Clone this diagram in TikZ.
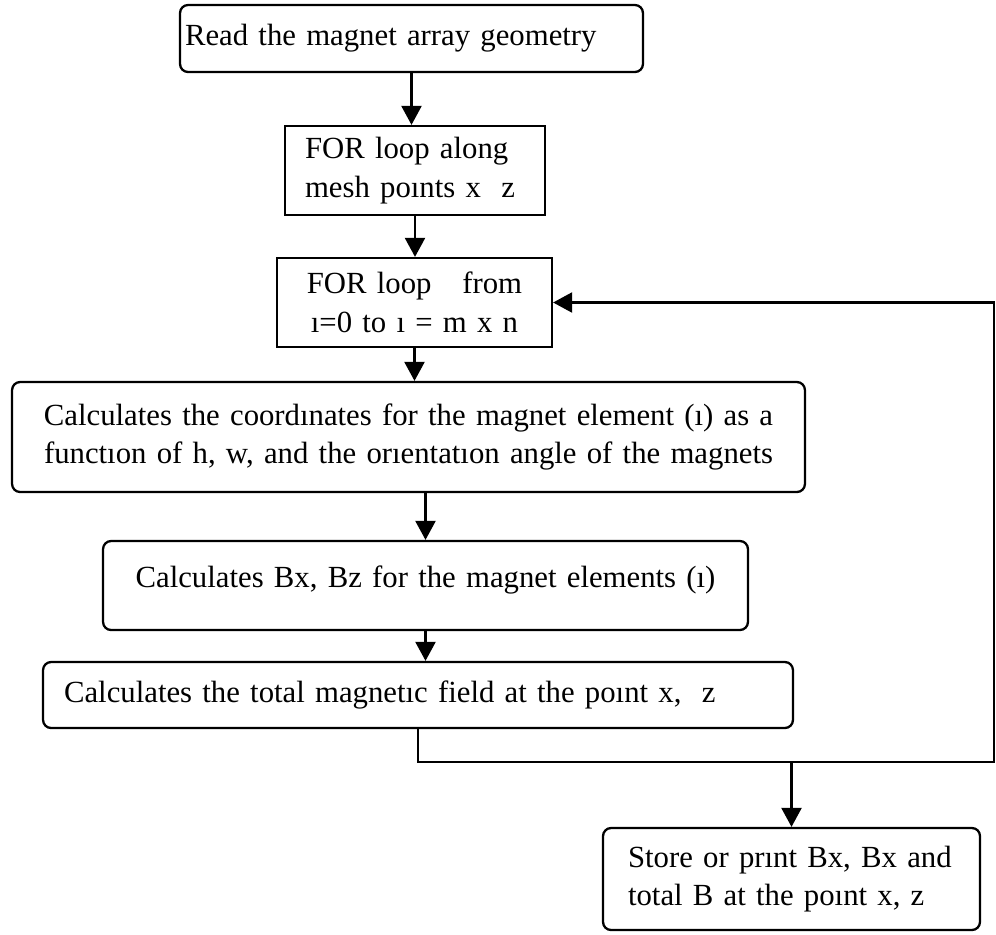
\documentclass[tikz,border=0pt]{standalone}
\usepackage{fontspec}
\setmainfont{Liberation Serif}
\usetikzlibrary{arrows.meta}
\begin{document}
\begin{tikzpicture}[x=0.02cm,y=-0.02cm,
		font=\fontsize{17.5}{22}\selectfont,
		box/.style={draw,line width=1.3pt,inner ysep=0pt},
		rbox/.style={box,rounded corners=0.16cm},
		flow/.style={line width=1.3pt,-{Triangle[length=0.38cm,width=0.4cm]}}]
			\useasboundingbox (0,0) rectangle (996,934);
			
			\node[rbox,minimum width=9.26cm,minimum height=1.34cm,text width=9.06cm,inner xsep=0.1cm,align=left] (read) at (411.5,38.5) {Read the magnet array geometry};
			\node[box,minimum width=5.2cm,minimum height=1.78cm,text width=4.4cm,inner xsep=0.4cm,align=left] (mesh) at (415,170.5) {FOR loop along\\mesh po\i nts x\ \ z};
			\node[box,minimum width=5.5cm,minimum height=1.78cm,text width=5.1cm,inner xsep=0.2cm,align=center] (loop) at (414.5,302.5) {FOR loop\ \ \ from\\\i=0 to \i\ = m x n};
			\node[rbox,minimum width=15.86cm,minimum height=2.2cm,text width=15.46cm,inner xsep=0.2cm,align=center] (coord) at (408.5,437) {Calculates the coord\i nates for the magnet element (\i) as a\\funct\i on of h, w, and the or\i entat\i on angle of the magnets};
			\node[rbox,minimum width=12.9cm,minimum height=1.78cm,text width=12.5cm,inner xsep=0.2cm,align=center,text depth=0.35cm] (bfield) at (425.5,585.5) {Calculates Bx, Bz for the magnet elements (\i)};
			\node[rbox,minimum width=15cm,minimum height=1.32cm,text width=14.16cm,inner xsep=0.42cm,align=left] (total) at (418,695) {Calculates the total magnet\i c field at the po\i nt x,\ \ z};
			\node[rbox,minimum width=7.54cm,minimum height=2.04cm,text width=6.54cm,inner xsep=0.5cm,align=left] (store) at (791.5,879) {Store or pr\i nt Bx, Bx and\\total B at the po\i nt x, z};
			
			\coordinate (join) at (994,762);
			
			\draw[flow] (read.south) -- (read.south |- mesh.north);
			\draw[flow] (mesh.south) -- (mesh.south |- loop.north);
			\draw[flow] (loop.south) -- (loop.south |- coord.north);
			\draw[flow] (bfield.north |- coord.south) -- (bfield.north);
			\draw[flow] (bfield.south) -- (bfield.south |- total.north);
			\draw[flow] (total.south) -- (total.south |- join) -- (join) -- (join |- loop.east) -- (loop.east);
			\draw[flow] (store.north |- join) -- (store.north);
		  \end{tikzpicture}
\end{document}
